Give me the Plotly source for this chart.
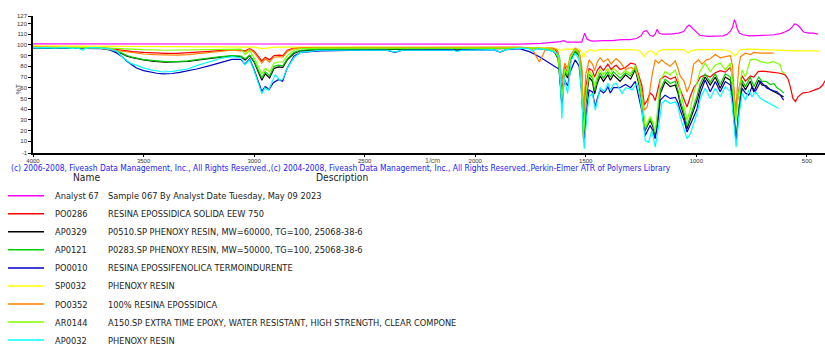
import plotly.graph_objects as go

# ---------------- data (wavenumber 1/cm, %T) ----------------
names = ["Analyst 67", "PO0286", "AP0329", "AP0121", "PO0010", "SP0032", "PO0352", "AR0144", "AP0032"]
descriptions = [
    "Sample 067 By Analyst Date Tuesday, May 09 2023",
    "RESINA EPOSSIDICA SOLIDA EEW 750",
    "P0510.SP PHENOXY RESIN, MW=60000, TG=100, 25068-38-6",
    "P0283.SP PHENOXY RESIN, MW=50000, TG=100, 25068-38-6",
    "RESINA EPOSSIFENOLICA TERMOINDURENTE",
    "PHENOXY RESIN",
    "100% RESINA EPOSSIDICA",
    "A150.SP EXTRA TIME EPOXY, WATER RESISTANT, HIGH STRENGTH, CLEAR COMPONE",
    "PHENOXY RESIN",
]
colors = ["#FF00FF", "#FF0000", "#000000", "#00D000", "#0000C8", "#FFFF00", "#FF8000", "#80FF00", "#00FFFF"]

x_ticks = [4000, 3500, 3000, 2500, 2000, 1500, 1000, 500]
y_ticks = [-1, 10, 20, 30, 40, 50, 60, 70, 80, 90, 100, 110, 120, 127]

analyst67 = [(4000, 101), (3500, 101), (3000, 101), (2500, 101), (2000, 101), (1800, 100.7), (1700, 101.5),
             (1650, 102), (1615, 103), (1600, 104), (1585, 102.5), (1540, 102.5), (1518, 102.5), (1505, 111),
             (1495, 105.5), (1480, 104), (1465, 103.5), (1420, 104), (1380, 104), (1340, 105), (1300, 105),
             (1270, 106), (1250, 108.5), (1240, 112), (1225, 113.5), (1210, 109), (1195, 108), (1185, 110.5),
             (1178, 114.5), (1168, 111), (1155, 110), (1120, 110), (1080, 111), (1057, 112.5), (1042, 117),
             (1032, 118.5), (1020, 116), (1005, 113), (985, 109), (950, 108), (920, 108), (880, 108.5),
             (860, 110), (845, 113), (835, 117), (828, 123.5), (822, 121), (815, 115), (805, 111), (790, 109.5),
             (760, 108.5), (740, 108.5), (700, 109), (680, 109), (650, 109.5), (620, 110.5), (600, 112),
             (580, 114), (565, 117), (556, 119.5), (545, 119), (530, 116), (515, 112), (490, 111), (470, 111),
             (450, 110)]

po0286 = [(4000, 98), (3800, 97.8), (3700, 97.5), (3650, 96.5), (3600, 95), (3550, 93.8), (3500, 93),
          (3450, 92.3), (3400, 92), (3350, 92), (3300, 92.5), (3250, 93.2), (3200, 94), (3150, 94.8),
          (3100, 95.5), (3060, 95), (3040, 94.5), (3020, 96.5), (3000, 94), (2965, 85), (2950, 88.5),
          (2930, 86), (2910, 90), (2885, 90.5), (2870, 90), (2850, 95), (2820, 97), (2780, 97.5), (2500, 97.5),
          (2000, 97.5), (1800, 98), (1720, 97.5), (1660, 96.5), (1640, 96), (1625, 91), (1608, 56), (1595, 80),
          (1582, 73), (1570, 88), (1548, 96.5), (1530, 93), (1518, 75), (1510, 22), (1500, 60), (1485, 78),
          (1470, 76), (1460, 70), (1448, 76), (1435, 80), (1420, 76), (1400, 82), (1385, 77), (1370, 80),
          (1362, 81), (1345, 77), (1320, 79), (1297, 83), (1276, 82), (1258, 70), (1246, 62), (1235, 44),
          (1222, 48), (1209, 55), (1197, 53), (1186, 48), (1175, 58), (1163, 68), (1141, 71), (1118, 68),
          (1095, 70), (1083, 64), (1073, 58), (1055, 50), (1042, 42), (1027, 52), (1012, 60), (997, 64),
          (982, 70), (960, 72), (937, 70), (914, 74), (892, 76), (869, 74.5), (846, 79), (836, 70), (829, 52),
          (821, 36), (814, 48), (806, 60), (793, 71), (778, 66), (756, 71), (740, 70), (720, 75), (700, 75.5),
          (680, 75), (650, 74), (620, 73.5), (598, 72), (585, 68), (575, 61), (563, 50), (552, 47), (540, 51.5),
          (520, 55), (490, 56), (470, 57.5), (445, 59.4), (430, 62), (416, 67)]

ap0329 = [(4000, 97), (3800, 97), (3700, 97), (3650, 95.5), (3600, 92), (3575, 89.5), (3550, 88), (3500, 86),
          (3450, 84.5), (3400, 83.8), (3350, 83.8), (3300, 84.5), (3250, 86), (3200, 87.5), (3150, 88.5),
          (3100, 89.5), (3060, 89), (3040, 86), (3020, 90), (3000, 84), (2965, 67), (2950, 73), (2930, 69),
          (2910, 78), (2890, 79.5), (2870, 79), (2850, 86), (2820, 92), (2790, 94.5), (2700, 95.5), (2400, 95.5),
          (2000, 96), (1800, 97), (1720, 96.5), (1660, 95), (1640, 93), (1625, 87), (1608, 45), (1595, 74),
          (1582, 69), (1570, 85), (1548, 94), (1530, 90), (1518, 60), (1510, 12), (1500, 45), (1485, 70),
          (1470, 66), (1460, 54), (1448, 64), (1435, 71), (1420, 66), (1400, 72), (1389, 67), (1375, 72),
          (1362, 69), (1345, 66), (1320, 72), (1297, 68), (1276, 77), (1258, 62), (1246, 45), (1231, 20),
          (1220, 25), (1209, 29.5), (1197, 24), (1186, 15.5), (1175, 32), (1163, 54.6), (1141, 65.6),
          (1118, 61), (1095, 62.5), (1083, 55), (1073, 45), (1055, 33), (1042, 21.7), (1027, 30), (1012, 39),
          (997, 48), (982, 60), (960, 70), (937, 62.5), (914, 70), (892, 59.5), (869, 70), (846, 67), (838, 55),
          (831, 39), (820, 9), (808, 39), (800, 55), (793, 64), (778, 58), (756, 66), (740, 56), (718, 67),
          (703, 62.5), (685, 62), (665, 58), (635, 55), (605, 51.5)]

ap0121 = [(4000, 97.5), (3800, 97.3), (3700, 97), (3650, 95.8), (3600, 92.5), (3575, 90), (3550, 88.5),
          (3500, 86.3), (3450, 85), (3400, 84.3), (3350, 84.3), (3300, 85), (3250, 86.5), (3200, 88), (3150, 89),
          (3100, 90), (3060, 89.5), (3040, 87), (3020, 90.5), (3000, 85), (2965, 69), (2950, 75), (2930, 71),
          (2910, 80), (2890, 81), (2870, 80.5), (2850, 87), (2820, 93), (2790, 95), (2700, 96), (2400, 96),
          (2000, 96.5), (1800, 97.3), (1720, 97), (1660, 95.5), (1640, 93.5), (1625, 88), (1608, 47), (1595, 76),
          (1582, 71), (1570, 87), (1548, 95), (1530, 91), (1518, 62), (1510, 13), (1500, 48), (1485, 73),
          (1470, 69), (1460, 57), (1448, 67), (1435, 74), (1420, 69), (1400, 75), (1389, 70), (1375, 75),
          (1362, 72), (1345, 69), (1320, 74), (1297, 71), (1276, 79), (1258, 64), (1246, 47), (1231, 21),
          (1220, 26), (1209, 31), (1197, 26), (1186, 17), (1175, 35), (1163, 58), (1141, 68), (1118, 64),
          (1095, 66), (1083, 58), (1073, 48), (1055, 36), (1042, 24), (1027, 33), (1012, 43), (997, 52),
          (982, 64), (960, 73), (937, 65), (914, 73), (892, 63), (869, 73), (846, 70), (838, 57), (831, 40),
          (820, 10), (808, 40), (800, 57), (793, 67), (778, 61), (756, 70), (740, 61), (718, 70), (703, 66),
          (685, 66), (665, 63), (650, 64), (635, 60), (620, 58), (605, 55)]

po0010 = [(4000, 97.5), (3800, 97.3), (3700, 97), (3683, 96.5), (3650, 95), (3622, 92.5), (3600, 89.5),
          (3577, 85), (3550, 81), (3532, 78.4), (3500, 76), (3472, 74.8), (3440, 73.5), (3411, 73), (3370, 73.3),
          (3336, 74.3), (3300, 75.5), (3260, 77.5), (3200, 80.6), (3150, 83.5), (3100, 86.5), (3060, 86.5),
          (3042, 82), (3020, 87), (3000, 77), (2965, 56.5), (2950, 61), (2932, 58.5), (2914, 64.4), (2891, 67.5),
          (2871, 66), (2853, 77), (2820, 89.4), (2790, 93), (2700, 94.5), (2500, 95), (2400, 95), (2363, 93),
          (2330, 95), (2100, 95.3), (2083, 94.5), (2060, 95.3), (1920, 95.5), (1887, 93.3), (1860, 95.5),
          (1800, 96.5), (1752, 93.5), (1706, 88.5), (1661, 83), (1638, 79.5), (1618, 77), (1608, 42), (1598, 68),
          (1582, 61.6), (1570, 75), (1548, 86), (1530, 80), (1518, 55), (1507, 9), (1495, 40), (1485, 57.8),
          (1470, 56), (1457, 42), (1445, 52), (1435, 57.8), (1420, 55), (1412, 56.5), (1400, 61), (1389, 55),
          (1375, 60), (1362, 60), (1345, 60), (1320, 63), (1297, 60), (1276, 66), (1258, 50), (1246, 38),
          (1231, 15.4), (1220, 20), (1209, 24.8), (1197, 20), (1186, 12.3), (1175, 26), (1163, 48.4),
          (1141, 53), (1118, 50), (1095, 51), (1083, 46), (1073, 39), (1055, 29), (1042, 18.6), (1027, 25),
          (1012, 32.7), (997, 40), (982, 55), (960, 67.2), (937, 56.3), (914, 65.7), (892, 56.3), (869, 65.7),
          (846, 62.5), (838, 50), (831, 35.9), (820, 9.2), (808, 35.9), (800, 50), (793, 59.4), (778, 55),
          (763, 53), (748, 61), (733, 56.3), (710, 65.7), (680, 59.4), (650, 57), (635, 56.3), (620, 53),
          (605, 48.4)]

sp0032 = [(4000, 99), (3500, 98.5), (3000, 98), (2965, 96.5), (2935, 97), (2900, 98), (2500, 98), (2000, 98),
          (1800, 97.5), (1650, 97), (1620, 96), (1608, 95), (1595, 96), (1530, 96), (1518, 93), (1510, 88),
          (1500, 93), (1480, 95.5), (1460, 94), (1440, 95.5), (1300, 95.5), (1260, 95), (1245, 92), (1235, 89),
          (1222, 93), (1205, 94.5), (1192, 93), (1183, 90), (1172, 94), (1150, 95.5), (1060, 95.5), (1045, 94),
          (1035, 92.5), (1025, 94.5), (1000, 95.5), (900, 95.5), (860, 95), (840, 93), (830, 90.5), (823, 89.5),
          (812, 93), (800, 95.5), (760, 96), (700, 95.5), (650, 95), (600, 94.5), (550, 94.5), (500, 94.5),
          (446, 94.5)]

po0352 = [(4000, 98), (3800, 97.5), (3700, 97), (3650, 95.5), (3600, 94), (3550, 92.5), (3500, 91.5),
          (3450, 91), (3400, 90.5), (3350, 90.5), (3300, 91), (3250, 92), (3200, 93), (3150, 94), (3100, 95),
          (3060, 94.5), (3040, 93.5), (3020, 96), (3000, 93), (2965, 83), (2950, 87), (2930, 84), (2910, 88.5),
          (2885, 89), (2870, 88.5), (2850, 94), (2820, 96.5), (2780, 97.5), (2500, 97.5), (2000, 97.5),
          (1800, 98), (1745, 97), (1725, 90), (1710, 84), (1695, 90), (1680, 97), (1650, 97), (1628, 95),
          (1618, 88), (1608, 66), (1595, 83), (1582, 78), (1570, 90), (1548, 97), (1530, 94), (1518, 80),
          (1510, 37), (1500, 72), (1485, 86), (1470, 82), (1460, 76), (1448, 84), (1435, 88), (1420, 84),
          (1400, 87), (1385, 82), (1370, 86), (1362, 87), (1345, 84), (1320, 77), (1297, 79), (1276, 77),
          (1258, 68), (1245, 55), (1235, 39), (1222, 42), (1212, 55), (1200, 72), (1186, 86), (1171, 83),
          (1156, 86), (1141, 83), (1118, 80), (1095, 85), (1083, 78), (1073, 71), (1055, 66), (1042, 56),
          (1027, 64), (1012, 82), (990, 86), (974, 82), (955, 86), (937, 87), (914, 91), (892, 88), (869, 89),
          (846, 90), (836, 80), (829, 50), (823, 33), (816, 55), (808, 80), (800, 89), (778, 92.3), (756, 91),
          (740, 93), (710, 92.3), (680, 92.5), (650, 92.3)]

ar0144 = [(4000, 97.8), (3800, 97.8), (3700, 97.5), (3650, 97), (3600, 96.3), (3500, 95.5), (3400, 95),
          (3300, 95.3), (3200, 96), (3100, 96.5), (3060, 96), (3040, 91), (3020, 95), (3000, 88), (2965, 73),
          (2950, 78), (2930, 75), (2910, 83), (2890, 84), (2870, 84), (2850, 90), (2820, 95), (2790, 96.5),
          (2700, 97), (2000, 97), (1800, 97.5), (1720, 97), (1660, 96), (1640, 94), (1625, 89), (1608, 50),
          (1595, 78), (1582, 73), (1570, 88), (1548, 96), (1530, 92), (1518, 64), (1510, 14), (1500, 52),
          (1485, 76), (1470, 72), (1460, 62), (1448, 71), (1435, 77), (1420, 72), (1400, 78), (1389, 73),
          (1375, 78), (1362, 76), (1345, 72), (1320, 76), (1297, 73), (1276, 81), (1258, 66), (1246, 50),
          (1231, 23), (1220, 28), (1209, 33), (1197, 28), (1186, 18.6), (1175, 40), (1163, 67), (1141, 75),
          (1118, 72), (1095, 76.6), (1083, 68), (1073, 58), (1055, 42), (1042, 29.5), (1027, 40), (1012, 55),
          (997, 65), (982, 76), (960, 83), (937, 75), (914, 81.3), (892, 83), (869, 76.6), (846, 83), (838, 70),
          (831, 55), (821, 28), (812, 50), (800, 70), (793, 76.6), (778, 70.3), (756, 86), (733, 86.6),
          (710, 84.4), (680, 83), (650, 84.4), (635, 83), (620, 81.3), (613, 75), (598, 73.5)]

ap0032 = [(4000, 97.2), (3950, 97.5), (3900, 97), (3860, 97.5), (3820, 96.8), (3800, 97.2), (3785, 96),
          (3775, 95), (3765, 96.5), (3740, 97.5), (3700, 97.3), (3683, 97), (3650, 96), (3620, 94),
          (3592, 87.8), (3560, 83), (3532, 80.6), (3500, 78.5), (3472, 76.9), (3440, 75.6), (3411, 74.7),
          (3370, 75.2), (3336, 76.3), (3300, 77.5), (3260, 80.6), (3200, 84.7), (3150, 87.5), (3100, 89),
          (3060, 88), (3042, 81.5), (3020, 86), (3000, 76), (2965, 54.5), (2951, 60), (2935, 57.5), (2905, 72),
          (2883, 67), (2870, 68), (2853, 77), (2820, 88), (2790, 93), (2700, 95), (2400, 95), (2363, 93.5),
          (2330, 95), (2100, 95), (2083, 94), (2060, 95), (1920, 95.5), (1887, 93.5), (1860, 95.5), (1800, 97),
          (1760, 96.5), (1740, 94.5), (1720, 96.5), (1680, 95.5), (1650, 94), (1630, 92), (1618, 88), (1608, 31),
          (1598, 70), (1582, 54.7), (1565, 86), (1548, 92.3), (1530, 86), (1518, 50), (1507, 2.9), (1495, 35),
          (1485, 51.5), (1470, 55), (1457, 39), (1445, 50), (1435, 60), (1420, 57), (1412, 58), (1400, 64),
          (1389, 58), (1375, 63), (1362, 64), (1345, 58), (1336, 54.6), (1320, 60), (1306, 59.3), (1291, 57.8),
          (1269, 64), (1258, 55), (1246, 39), (1231, 10.7), (1216, 9.2), (1201, 20.1), (1186, 4.5), (1171, 23.3),
          (1156, 45.2), (1141, 48.4), (1118, 45.2), (1095, 46.8), (1083, 42), (1073, 32.7), (1055, 22),
          (1042, 12.3), (1027, 17), (1012, 26.4), (997, 35.8), (982, 50), (960, 59.4), (937, 50), (914, 59.4),
          (892, 51.5), (869, 61), (846, 56.3), (838, 45), (831, 29.6), (820, 4.5), (808, 32.7), (800, 45),
          (793, 54.7), (778, 48.4), (763, 57.8), (748, 51.5), (733, 56), (710, 50), (680, 46.8), (650, 43.7),
          (628, 40.6)]

spectra = [analyst67, po0286, ap0329, ap0121, po0010, sp0032, po0352, ar0144, ap0032]

# ---------------- layout geometry (pixels) ----------------
W, H = 825, 345
ML, MR, MT, MB = 33, 0, 16, 192
PW, PH = W - ML - MR, H - MT - MB


def px(x):
    return (x - ML) / PW


def py(y):
    return (H - MB - y) / PH


NARROW = "DejaVu Sans Condensed, Liberation Sans Narrow, Arial Narrow, sans-serif"
SANS = "Liberation Sans, Arial, sans-serif"

fig = go.Figure()
for name, color, pts in zip(names, colors, spectra):
    fig.add_trace(go.Scatter(
        x=[p[0] for p in pts], y=[p[1] for p in pts], mode="lines", name=name,
        line=dict(color=color, width=1.2), hoverinfo="skip", showlegend=False))

fig.update_layout(
    width=W, height=H, margin=dict(l=ML, r=MR, t=MT, b=MB, pad=0),
    paper_bgcolor="white", plot_bgcolor="white", showlegend=False,
    font=dict(family=SANS, color="#222222"),
)
fig.update_xaxes(
    range=[4000, 418], tickmode="array", tickvals=x_ticks, ticktext=[str(v) for v in x_ticks],
    tickfont=dict(size=6, family=SANS, color="#333333"), ticks="outside", ticklen=2, tickcolor="black",
    ticklabelstandoff=-1,
    showline=True, linecolor="black", linewidth=1.5, showgrid=False, zeroline=False,
)
fig.update_yaxes(
    range=[-1, 127], tickmode="array", tickvals=y_ticks, ticktext=[str(v) for v in y_ticks],
    tickfont=dict(size=6, family=SANS, color="#333333"), ticks="outside", ticklen=3, tickcolor="black",
    showline=True, linecolor="black", linewidth=1.5, showgrid=False, zeroline=False,
)

ann = []
shapes = []
# axis titles
ann.append(dict(text="%T", x=px(12), y=py(89), xref="paper", yref="paper", showarrow=False, textangle=-90,
                font=dict(size=7, family=SANS, color="#555555")))
ann.append(dict(text="1/cm", x=px(432), y=py(166), xref="paper", yref="paper", showarrow=False,
                font=dict(size=7, family=SANS, color="#555555")))
# copyright line
ann.append(dict(text="(c) 2006-2008, Fiveash Data Management, Inc., All Rights Reserved.,(c) 2004-2008, "
                     "Fiveash Data Management, Inc., All Rights Reserved.,Perkin-Elmer ATR of Polymers Library",
                x=px(9), y=py(167.5), xref="paper", yref="paper", showarrow=False, xanchor="left",
                yanchor="middle", font=dict(size=8.4, family=NARROW, color="#2222FF")))
# headers
ann.append(dict(text="Name", x=px(86), y=py(177.5), xref="paper", yref="paper", showarrow=False,
                xanchor="center", yanchor="middle", font=dict(size=10.2, family=NARROW, color="#222222")))
ann.append(dict(text="Description", x=px(342), y=py(177.5), xref="paper", yref="paper", showarrow=False,
                xanchor="center", yanchor="middle", font=dict(size=10.2, family=NARROW, color="#222222")))

row0, dy = 195.7, 18.05
for i, (name, desc, color) in enumerate(zip(names, descriptions, colors)):
    yy = row0 + i * dy
    shapes.append(dict(type="line", xref="paper", yref="paper", x0=px(8), x1=px(44), y0=py(yy), y1=py(yy),
                       line=dict(color=color, width=1.5)))
    ann.append(dict(text=name, x=px(53), y=py(yy), xref="paper", yref="paper", showarrow=False,
                    xanchor="left", yanchor="middle", font=dict(size=9.2, family=NARROW, color="#222222")))
    ann.append(dict(text=desc, x=px(106), y=py(yy), xref="paper", yref="paper", showarrow=False,
                    xanchor="left", yanchor="middle", font=dict(size=9.2, family=NARROW, color="#222222")))

fig.update_layout(annotations=ann, shapes=shapes)
fig.write_html("out.html", config={"displayModeBar": False},
               post_script="document.body.style.margin='0';document.body.style.padding='0';")
